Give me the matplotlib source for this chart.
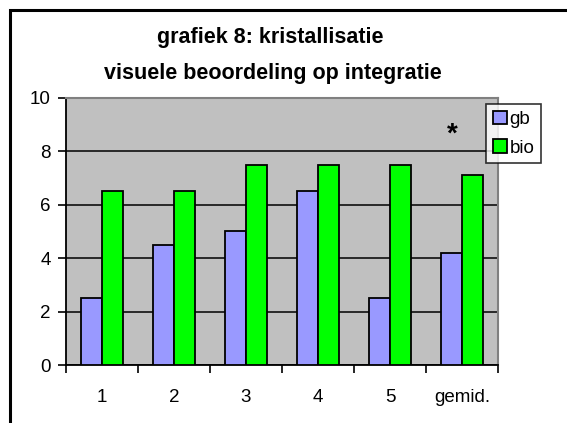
import matplotlib.pyplot as plt
import numpy as np
from matplotlib.patches import Rectangle

plt.rcParams['font.family'] = ['Liberation Sans', 'DejaVu Sans']

categories = ['1', '2', '3', '4', '5', 'gemid.']
gb = [2.5, 4.5, 5.0, 6.5, 2.5, 4.2]
bio = [6.5, 6.5, 7.5, 7.5, 7.5, 7.1]

fig = plt.figure(figsize=(5.67, 4.23), dpi=100)
# outer chart frame (right/bottom run off the picture)
fig.patches.append(Rectangle((10 / 567, -0.1), 1.2, (423 - 10) / 423 + 0.1,
                             transform=fig.transFigure, fill=False,
                             edgecolor='black', linewidth=2.2))

ax = fig.add_axes([66 / 567, 58 / 423, 432 / 567, 267 / 423])
ax.set_facecolor('#C0C0C0')

x = np.arange(len(categories))
w = 0.29
ax.bar(x - w / 2, gb, w, color='#9999FF', edgecolor='black', linewidth=1.3, label='gb', zorder=3)
ax.bar(x + w / 2, bio, w, color='#00FF00', edgecolor='black', linewidth=1.3, label='bio', zorder=3)

ax.set_xlim(-0.5, 5.5)
ax.set_ylim(0, 10)
ax.set_yticks([0, 2, 4, 6, 8, 10])
ax.yaxis.grid(True, color='black', linewidth=1.1, zorder=1)
ax.set_axisbelow(True)

ax.set_xticks(x)
ax.set_xticklabels(categories, fontsize=13.5)
ax.tick_params(axis='x', length=0, pad=17)
ax.set_xticks(np.arange(-0.5, 6, 1), minor=True)
ax.tick_params(axis='x', which='minor', length=6, width=1.2, direction='out')
ax.tick_params(axis='y', length=6, width=1.2, labelsize=13.5, pad=5)

for s in ['top', 'right']:
    ax.spines[s].set_color('#808080')
    ax.spines[s].set_linewidth(1.5)
for s in ['left', 'bottom']:
    ax.spines[s].set_color('black')
    ax.spines[s].set_linewidth(1.3)

ax.text(4.86, 8.62, '*', fontsize=20, fontweight='bold', ha='center', va='center')

leg = ax.legend(loc='upper left', bbox_to_anchor=(486 / 567, 319 / 423), bbox_transform=fig.transFigure,
                fontsize=13.5, frameon=True, fancybox=False, edgecolor='black',
                handlelength=0.75, handleheight=0.75, handletextpad=0.15,
                borderpad=0.35, labelspacing=0.6, borderaxespad=0)
leg.get_frame().set_linewidth(1.2)
leg.get_frame().set_facecolor('white')

fig.text(270 / 567, 1 - 38 / 423, 'grafiek 8: kristallisatie',
         ha='center', va='center', fontsize=15.5, fontweight='bold')
fig.text(273 / 567, 1 - 74 / 423, 'visuele beoordeling op integratie',
         ha='center', va='center', fontsize=15.5, fontweight='bold')

fig.savefig('out.png', dpi=100)
